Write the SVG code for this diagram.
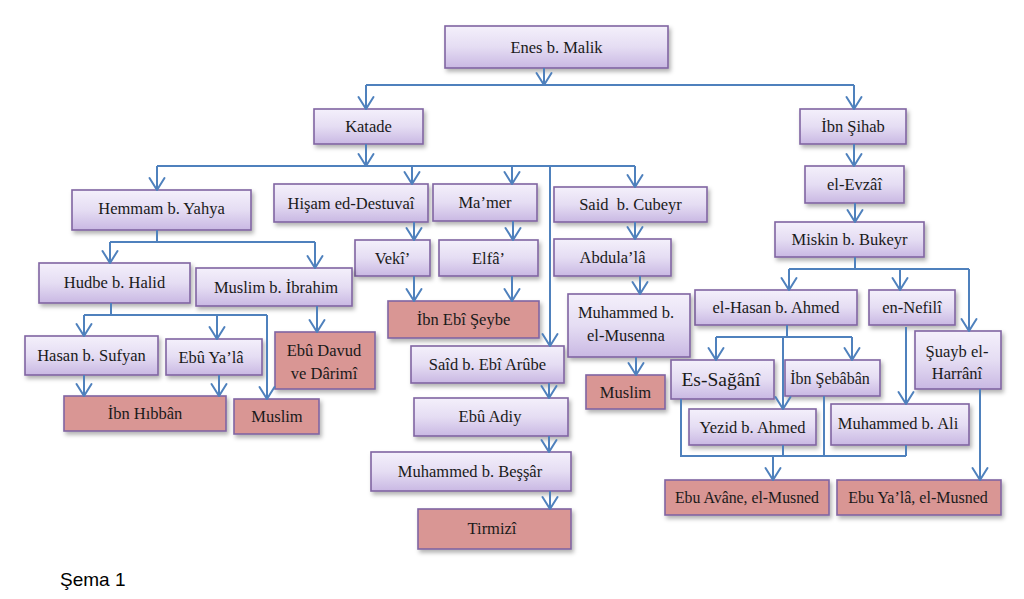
<svg xmlns="http://www.w3.org/2000/svg" width="1024" height="599" viewBox="0 0 1024 599">
<defs>
<linearGradient id="lav" x1="0" y1="0" x2="0" y2="1">
<stop offset="0" stop-color="#f4f0fb"/>
<stop offset="0.5" stop-color="#e5ddf3"/>
<stop offset="1" stop-color="#c9b8e3"/>
</linearGradient>
<filter id="sh" x="-10%" y="-20%" width="130%" height="160%">
<feDropShadow dx="2" dy="3" stdDeviation="2" flood-color="#000" flood-opacity="0.3"/>
</filter>
<marker id="ar" viewBox="-15 -10 18 20" refX="0" refY="0" markerWidth="18" markerHeight="20" markerUnits="userSpaceOnUse" orient="auto">
<path d="M-12,-7.5 L0,0 L-12,7.5" fill="none" stroke="#4f81bd" stroke-width="2" stroke-linejoin="round" stroke-linecap="round"/>
</marker>
</defs>
<style>
.p rect{fill:url(#lav);stroke:#8064a2;stroke-width:1.6;filter:url(#sh)}
.r rect{fill:#d99694;stroke:#8064a2;stroke-width:1.6;filter:url(#sh)}
text{font-family:"Liberation Serif","Times New Roman",serif;font-size:16.5px;fill:#1a1a1a;text-anchor:middle}
.c path{fill:none;stroke:#4f81bd;stroke-width:2}
.c path.a{marker-end:url(#ar)}
.cap{font-family:"Liberation Sans",Arial,sans-serif;font-size:19px;text-anchor:start;fill:#000}
</style>
<rect width="1024" height="599" fill="#fff"/>

<g id="n-enes" class="p"><rect x="445" y="26" width="223" height="42"/><text x="556.5" y="53">Enes b. Malik</text></g>
<g id="n-katade" class="p"><rect x="314" y="109" width="109" height="35"/><text x="368.5" y="132">Katade</text></g>
<g id="n-ibnsihab" class="p"><rect x="800" y="109" width="106" height="35"/><text x="853" y="132">İbn Şihab</text></g>
<g id="n-hemmam" class="p"><rect x="72" y="190" width="179" height="40"/><text x="161.5" y="214">Hemmam b. Yahya</text></g>
<g id="n-hisam" class="p"><rect x="274" y="184" width="154" height="38"/><text x="351" y="208.5">Hişam ed-Destuvaî</text></g>
<g id="n-mamer" class="p"><rect x="433" y="184" width="104" height="37"/><text x="485" y="208">Ma’mer</text></g>
<g id="n-saidcubeyr" class="p"><rect x="554" y="187" width="153" height="35"/><text x="630.5" y="210" xml:space="preserve">Said  b. Cubeyr</text></g>
<g id="n-evzai" class="p"><rect x="805" y="166" width="99" height="37"/><text x="854.5" y="190">el-Evzâî</text></g>
<g id="n-miskin" class="p"><rect x="775" y="222" width="149" height="35"/><text x="849.5" y="245">Miskin b. Bukeyr</text></g>
<g id="n-veki" class="p"><rect x="355" y="240" width="75" height="36"/><text x="392.5" y="263.5">Vekî’</text></g>
<g id="n-elfa" class="p"><rect x="439" y="240" width="99" height="36"/><text x="488.5" y="263.5">Elfâ’</text></g>
<g id="n-abdulala" class="p"><rect x="554" y="239" width="117" height="37"/><text x="612.5" y="263">Abdula’lâ</text></g>
<g id="n-hudbe" class="p"><rect x="39" y="263" width="151" height="40"/><text x="114.5" y="288">Hudbe b. Halid</text></g>
<g id="n-muslimibrahim" class="p"><rect x="196" y="268" width="156" height="38"/><text x="276" y="293">Muslim b. İbrahim</text></g>
<g id="n-elhasan" class="p"><rect x="695" y="290" width="162" height="35"/><text x="776" y="313">el-Hasan b. Ahmed</text></g>
<g id="n-nefili" class="p"><rect x="869" y="290" width="86" height="35"/><text x="912" y="313">en-Nefilî</text></g>
<g id="n-hasansufyan" class="p"><rect x="25" y="336" width="133" height="39"/><text x="91.5" y="361">Hasan b. Sufyan</text></g>
<g id="n-ebuyala" class="p"><rect x="166" y="339" width="96" height="36"/><text x="211" y="363">Ebû Ya’lâ</text></g>
<g id="n-ebudavud" class="r"><rect x="275" y="332" width="100" height="57"/><text x="324" y="356">Ebû Davud</text><text x="324" y="378.5">ve Dârimî</text></g>
<g id="n-ibnhibban" class="r"><rect x="64" y="396" width="162" height="35"/><text x="145" y="419">İbn Hıbbân</text></g>
<g id="n-muslim1" class="r"><rect x="234" y="399" width="85" height="35"/><text x="277" y="422">Muslim</text></g>
<g id="n-ibnebiseybe" class="r"><rect x="388" y="301" width="151" height="37"/><text x="463.5" y="325">İbn Ebî Şeybe</text></g>
<g id="n-saidebiarube" class="p"><rect x="411" y="346" width="153" height="37"/><text x="487.5" y="370">Saîd b. Ebî Arûbe</text></g>
<g id="n-ebuadiy" class="p"><rect x="414" y="398" width="154" height="38"/><text x="490" y="422">Ebû Adiy</text></g>
<g id="n-bessar" class="p"><rect x="371" y="452" width="200" height="39"/><text x="470" y="477">Muhammed b. Beşşâr</text></g>
<g id="n-tirmizi" class="r"><rect x="418" y="509" width="153" height="40"/><text x="492" y="534">Tirmizî</text></g>
<g id="n-musenna" class="p"><rect x="568" y="294" width="122" height="63"/><text x="626" y="318">Muhammed b.</text><text x="626" y="341">el-Musenna</text></g>
<g id="n-muslim2" class="r"><rect x="586" y="375" width="79" height="34"/><text x="625.5" y="398">Muslim</text></g>
<g id="n-esagani" class="p"><rect x="671" y="360" width="103" height="39"/><text x="721" y="386" style="font-size:19.5px">Es-Sağânî</text></g>
<g id="n-ibnsebaban" class="p"><rect x="785" y="360" width="95" height="36"/><text x="830" y="384" style="font-size:16px">İbn Şebâbân</text></g>
<g id="n-suayb" class="p"><rect x="915" y="331" width="86" height="58"/><text x="957" y="357">Şuayb el-</text><text x="957" y="379">Harrânî</text></g>
<g id="n-yezid" class="p"><rect x="689" y="409" width="127" height="36"/><text x="752.5" y="433">Yezid b. Ahmed</text></g>
<g id="n-muhammedali" class="p"><rect x="831" y="404" width="138" height="41"/><text x="898" y="429">Muhammed b. Ali</text></g>
<g id="n-ebuavane" class="r"><rect x="665" y="480" width="164" height="35"/><text x="747" y="503" style="font-size:15.8px">Ebu Avâne, el-Musned</text></g>
<g id="n-ebuyalamusned" class="r"><rect x="837" y="480" width="164" height="35"/><text x="918" y="503" style="font-size:16px">Ebu Ya’lâ, el-Musned</text></g>

<g id="connectors" class="c">
<path d="M366,85 H854"/>
<path d="M157,166 H635"/>
<path d="M157,230 V242 M110,242 H315"/>
<path d="M111,303 V315 M84,315 H267"/>
<path d="M855,257 V269 M789,269 H969"/>
<path d="M787,325 V337 M716,337 H852"/>
<path d="M681,399 V456 H906 M783,445 V456 M824,396 V456 M906,445 V456"/>
<path class="a" d="M544,68 V85"/>
<path class="a" d="M366,85 V109"/>
<path class="a" d="M854,85 V109"/>
<path class="a" d="M366,144 V166"/>
<path class="a" d="M157,166 V190"/>
<path class="a" d="M412,166 V184"/>
<path class="a" d="M512,166 V184"/>
<path class="a" d="M635,166 V187"/>
<path class="a" d="M550,166 V346"/>
<path class="a" d="M414,222 V240"/>
<path class="a" d="M513,221 V240"/>
<path class="a" d="M414,276 V301"/>
<path class="a" d="M512,276 V301"/>
<path class="a" d="M635,222 V239"/>
<path class="a" d="M640,276 V294"/>
<path class="a" d="M636,357 V375"/>
<path class="a" d="M549,383 V398"/>
<path class="a" d="M549,436 V452"/>
<path class="a" d="M550,491 V509"/>
<path class="a" d="M110,242 V263"/>
<path class="a" d="M315,242 V268"/>
<path class="a" d="M84,315 V336"/>
<path class="a" d="M217,315 V339"/>
<path class="a" d="M267,315 V399"/>
<path class="a" d="M317,306 V332"/>
<path class="a" d="M84,375 V396"/>
<path class="a" d="M219,375 V396"/>
<path class="a" d="M854,144 V166"/>
<path class="a" d="M855,203 V222"/>
<path class="a" d="M789,269 V290"/>
<path class="a" d="M900,269 V290"/>
<path class="a" d="M969,269 V331"/>
<path class="a" d="M716,337 V360"/>
<path class="a" d="M852,337 V360"/>
<path class="a" d="M783,337 V409"/>
<path class="a" d="M906,327 V404"/>
<path class="a" d="M980,389 V480"/>
<path class="a" d="M773,456 V480"/>
</g>

<text class="cap" x="60" y="586">Şema 1</text>
</svg>
